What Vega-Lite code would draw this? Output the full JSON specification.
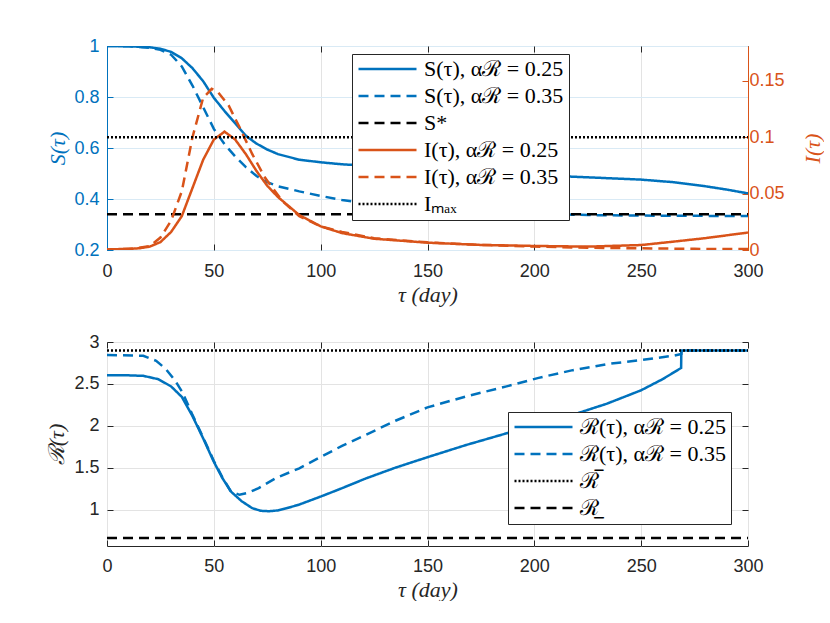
{
  "$schema": "https://vega.github.io/schema/vega-lite/v6.json",
  "background": "white",
  "padding": {"left": 45, "top": 36, "right": 0, "bottom": 0},
  "spacing": 26,
  "config": {
    "view": {"stroke": "#262626", "strokeWidth": 1},
    "axis": {
      "labelFont": "Liberation Sans",
      "labelFontSize": 18,
      "labelColor": "#262626",
      "labelFlush": false,
      "titleFont": "Liberation Serif",
      "titleFontSize": 22,
      "titleFontWeight": "normal",
      "titleFontStyle": "italic",
      "titleColor": "#262626",
      "gridColor": "#e3e3e3",
      "gridWidth": 1,
      "tickColor": "#262626",
      "tickSize": -6,
      "labelPadding": 14,
      "domainColor": "#262626"
    },
    "legend": {
      "orient": "none",
      "labelFont": "Liberation Serif",
      "labelFontSize": 22,
      "labelColor": "black",
      "fillColor": "white",
      "strokeColor": "#262626",
      "padding": 5,
      "rowPadding": 5,
      "symbolSize": 3364,
      "symbolStrokeWidth": 2.5,
      "clipHeight": 20,
      "labelOffset": 6,
      "labelLimit": 400,
      "title": null
    }
  },
  "datasets": {
    "S": [
      {"t": 0, "v": 1.0, "s": "S1"}, {"t": 10, "v": 0.999, "s": "S1"}, {"t": 20, "v": 0.995, "s": "S1"},
      {"t": 25, "v": 0.989, "s": "S1"}, {"t": 30, "v": 0.977, "s": "S1"}, {"t": 35, "v": 0.952, "s": "S1"},
      {"t": 40, "v": 0.913, "s": "S1"}, {"t": 45, "v": 0.862, "s": "S1"}, {"t": 50, "v": 0.797, "s": "S1"},
      {"t": 55, "v": 0.745, "s": "S1"}, {"t": 60, "v": 0.697, "s": "S1"}, {"t": 65, "v": 0.648, "s": "S1"},
      {"t": 70, "v": 0.617, "s": "S1"}, {"t": 75, "v": 0.594, "s": "S1"}, {"t": 80, "v": 0.576, "s": "S1"},
      {"t": 90, "v": 0.554, "s": "S1"}, {"t": 100, "v": 0.544, "s": "S1"}, {"t": 110, "v": 0.536, "s": "S1"},
      {"t": 125, "v": 0.529, "s": "S1"}, {"t": 150, "v": 0.52, "s": "S1"}, {"t": 175, "v": 0.506, "s": "S1"},
      {"t": 200, "v": 0.494, "s": "S1"}, {"t": 225, "v": 0.485, "s": "S1"}, {"t": 250, "v": 0.476, "s": "S1"},
      {"t": 265, "v": 0.466, "s": "S1"}, {"t": 280, "v": 0.45, "s": "S1"}, {"t": 290, "v": 0.437, "s": "S1"},
      {"t": 300, "v": 0.422, "s": "S1"},
      {"t": 0, "v": 1.0, "s": "S2"}, {"t": 10, "v": 0.999, "s": "S2"}, {"t": 20, "v": 0.993, "s": "S2"},
      {"t": 25, "v": 0.985, "s": "S2"}, {"t": 30, "v": 0.966, "s": "S2"}, {"t": 35, "v": 0.92, "s": "S2"},
      {"t": 40, "v": 0.845, "s": "S2"}, {"t": 45, "v": 0.76, "s": "S2"}, {"t": 50, "v": 0.675, "s": "S2"},
      {"t": 55, "v": 0.615, "s": "S2"}, {"t": 60, "v": 0.567, "s": "S2"}, {"t": 65, "v": 0.525, "s": "S2"},
      {"t": 70, "v": 0.49, "s": "S2"}, {"t": 75, "v": 0.466, "s": "S2"}, {"t": 80, "v": 0.45, "s": "S2"},
      {"t": 90, "v": 0.43, "s": "S2"}, {"t": 100, "v": 0.412, "s": "S2"}, {"t": 110, "v": 0.396, "s": "S2"},
      {"t": 125, "v": 0.38, "s": "S2"}, {"t": 150, "v": 0.365, "s": "S2"}, {"t": 175, "v": 0.352, "s": "S2"},
      {"t": 200, "v": 0.343, "s": "S2"}, {"t": 225, "v": 0.337, "s": "S2"}, {"t": 250, "v": 0.335, "s": "S2"},
      {"t": 275, "v": 0.334, "s": "S2"}, {"t": 300, "v": 0.333, "s": "S2"},
      {"t": 0, "v": 0.34, "s": "Ss"}, {"t": 300, "v": 0.34, "s": "Ss"}
    ],
    "I": [
      {"t": 0, "v": 0.0005, "s": "I1"}, {"t": 10, "v": 0.001, "s": "I1"}, {"t": 15, "v": 0.0015, "s": "I1"},
      {"t": 20, "v": 0.003, "s": "I1"}, {"t": 25, "v": 0.007, "s": "I1"}, {"t": 30, "v": 0.016, "s": "I1"},
      {"t": 35, "v": 0.03, "s": "I1"}, {"t": 40, "v": 0.055, "s": "I1"}, {"t": 45, "v": 0.08, "s": "I1"},
      {"t": 50, "v": 0.098, "s": "I1"}, {"t": 55, "v": 0.105, "s": "I1"}, {"t": 60, "v": 0.098, "s": "I1"},
      {"t": 65, "v": 0.085, "s": "I1"}, {"t": 70, "v": 0.07, "s": "I1"}, {"t": 75, "v": 0.057, "s": "I1"},
      {"t": 80, "v": 0.047, "s": "I1"}, {"t": 90, "v": 0.031, "s": "I1"}, {"t": 100, "v": 0.021, "s": "I1"},
      {"t": 110, "v": 0.015, "s": "I1"}, {"t": 125, "v": 0.01, "s": "I1"}, {"t": 150, "v": 0.0065, "s": "I1"},
      {"t": 175, "v": 0.0045, "s": "I1"}, {"t": 200, "v": 0.0036, "s": "I1"}, {"t": 225, "v": 0.003, "s": "I1"},
      {"t": 250, "v": 0.0044, "s": "I1"}, {"t": 265, "v": 0.0074, "s": "I1"}, {"t": 280, "v": 0.0105, "s": "I1"},
      {"t": 290, "v": 0.013, "s": "I1"}, {"t": 300, "v": 0.0155, "s": "I1"},
      {"t": 0, "v": 0.0005, "s": "I2"}, {"t": 10, "v": 0.001, "s": "I2"}, {"t": 15, "v": 0.002, "s": "I2"},
      {"t": 20, "v": 0.0035, "s": "I2"}, {"t": 25, "v": 0.011, "s": "I2"}, {"t": 30, "v": 0.026, "s": "I2"},
      {"t": 35, "v": 0.052, "s": "I2"}, {"t": 40, "v": 0.1, "s": "I2"}, {"t": 45, "v": 0.135, "s": "I2"},
      {"t": 49, "v": 0.143, "s": "I2"}, {"t": 52, "v": 0.14, "s": "I2"}, {"t": 57, "v": 0.128, "s": "I2"},
      {"t": 62, "v": 0.109, "s": "I2"}, {"t": 68, "v": 0.085, "s": "I2"}, {"t": 74, "v": 0.064, "s": "I2"},
      {"t": 82, "v": 0.0435, "s": "I2"}, {"t": 90, "v": 0.03, "s": "I2"}, {"t": 100, "v": 0.021, "s": "I2"},
      {"t": 110, "v": 0.016, "s": "I2"}, {"t": 125, "v": 0.0105, "s": "I2"}, {"t": 150, "v": 0.0068, "s": "I2"},
      {"t": 175, "v": 0.0045, "s": "I2"}, {"t": 200, "v": 0.003, "s": "I2"}, {"t": 225, "v": 0.002, "s": "I2"},
      {"t": 250, "v": 0.0015, "s": "I2"}, {"t": 275, "v": 0.001, "s": "I2"}, {"t": 300, "v": 0.0008, "s": "I2"},
      {"t": 0, "v": 0.1, "s": "Im"}, {"t": 300, "v": 0.1, "s": "Im"}
    ],
    "R": [
      {"t": 0, "v": 2.604, "s": "R1"}, {"t": 10, "v": 2.602, "s": "R1"}, {"t": 17, "v": 2.596, "s": "R1"},
      {"t": 24, "v": 2.556, "s": "R1"}, {"t": 30, "v": 2.47, "s": "R1"}, {"t": 35, "v": 2.345, "s": "R1"},
      {"t": 40, "v": 2.116, "s": "R1"}, {"t": 45, "v": 1.85, "s": "R1"}, {"t": 50, "v": 1.57, "s": "R1"},
      {"t": 54, "v": 1.376, "s": "R1"}, {"t": 58, "v": 1.215, "s": "R1"}, {"t": 63, "v": 1.1, "s": "R1"},
      {"t": 68, "v": 1.016, "s": "R1"}, {"t": 72, "v": 0.985, "s": "R1"}, {"t": 76, "v": 0.98, "s": "R1"},
      {"t": 80, "v": 0.99, "s": "R1"}, {"t": 84, "v": 1.015, "s": "R1"}, {"t": 90, "v": 1.06, "s": "R1"},
      {"t": 100, "v": 1.155, "s": "R1"}, {"t": 110, "v": 1.255, "s": "R1"}, {"t": 121, "v": 1.37, "s": "R1"},
      {"t": 135, "v": 1.5, "s": "R1"}, {"t": 150, "v": 1.625, "s": "R1"}, {"t": 168, "v": 1.77, "s": "R1"},
      {"t": 187, "v": 1.91, "s": "R1"}, {"t": 200, "v": 2.005, "s": "R1"}, {"t": 210, "v": 2.075, "s": "R1"},
      {"t": 221, "v": 2.156, "s": "R1"}, {"t": 234, "v": 2.264, "s": "R1"}, {"t": 250, "v": 2.424, "s": "R1"},
      {"t": 260, "v": 2.556, "s": "R1"}, {"t": 268.7, "v": 2.69, "s": "R1"}, {"t": 268.8, "v": 2.9, "s": "R1"},
      {"t": 300, "v": 2.9, "s": "R1"},
      {"t": 0, "v": 2.844, "s": "R2"}, {"t": 17, "v": 2.836, "s": "R2"}, {"t": 23, "v": 2.776, "s": "R2"},
      {"t": 27.6, "v": 2.676, "s": "R2"}, {"t": 32, "v": 2.536, "s": "R2"}, {"t": 35.4, "v": 2.396, "s": "R2"},
      {"t": 40, "v": 2.13, "s": "R2"}, {"t": 45, "v": 1.86, "s": "R2"}, {"t": 50, "v": 1.58, "s": "R2"},
      {"t": 54, "v": 1.385, "s": "R2"}, {"t": 58, "v": 1.215, "s": "R2"}, {"t": 62, "v": 1.176, "s": "R2"},
      {"t": 66, "v": 1.2, "s": "R2"}, {"t": 71, "v": 1.256, "s": "R2"}, {"t": 79, "v": 1.376, "s": "R2"},
      {"t": 90, "v": 1.492, "s": "R2"}, {"t": 100, "v": 1.628, "s": "R2"}, {"t": 110, "v": 1.76, "s": "R2"},
      {"t": 121, "v": 1.89, "s": "R2"}, {"t": 135, "v": 2.06, "s": "R2"}, {"t": 150, "v": 2.22, "s": "R2"},
      {"t": 168, "v": 2.35, "s": "R2"}, {"t": 187, "v": 2.47, "s": "R2"}, {"t": 202, "v": 2.572, "s": "R2"},
      {"t": 218, "v": 2.664, "s": "R2"}, {"t": 234, "v": 2.736, "s": "R2"}, {"t": 250, "v": 2.784, "s": "R2"},
      {"t": 265, "v": 2.836, "s": "R2"}, {"t": 268.8, "v": 2.856, "s": "R2"}, {"t": 268.9, "v": 2.9, "s": "R2"},
      {"t": 300, "v": 2.9, "s": "R2"},
      {"t": 0, "v": 2.9, "s": "Rb"}, {"t": 300, "v": 2.9, "s": "Rb"},
      {"t": 0, "v": 0.66, "s": "Ru"}, {"t": 300, "v": 0.66, "s": "Ru"}
    ]
  },
  "vconcat": [
    {
      "width": 641,
      "height": 204,
      "layer": [
        {
          "data": {"name": "S"},
          "mark": {"type": "line", "strokeWidth": 2.5, "clip": true},
          "encoding": {
            "x": {
              "field": "t", "type": "quantitative",
              "scale": {"domain": [0, 300], "nice": false},
              "axis": {"values": [0, 50, 100, 150, 200, 250, 300], "title": "τ (day)", "titlePadding": 4, "labelPadding": 18, "domain": false}
            },
            "y": {
              "field": "v", "type": "quantitative",
              "scale": {"domain": [0.2, 1], "nice": false, "zero": false},
              "axis": {
                "values": [0.2, 0.4, 0.6, 0.8, 1], "format": "~g", "title": "S(τ)",
                "titleColor": "#0072BD", "labelColor": "#0072BD", "domainColor": "#0072BD",
                "tickColor": "#0072BD", "gridColor": "#d9eaf5", "titlePadding": 4
              }
            },
            "color": {
              "field": "s", "type": "nominal",
              "scale": {"domain": ["S1", "S2", "Ss", "I1", "I2", "Im"], "range": ["#0072BD", "#0072BD", "#000000", "#D95319", "#D95319", "#000000"]},
              "legend": {
                "legendX": 245, "legendY": 8,
                "labelExpr": "datum.label == 'S1' ? 'S(τ), αℛ = 0.25' : datum.label == 'S2' ? 'S(τ), αℛ = 0.35' : datum.label == 'Ss' ? 'S*' : datum.label == 'I1' ? 'I(τ), αℛ = 0.25' : datum.label == 'I2' ? 'I(τ), αℛ = 0.35' : 'Iₘₐₓ'"
              }
            },
            "strokeDash": {
              "field": "s", "type": "nominal",
              "scale": {"domain": ["S1", "S2", "Ss", "I1", "I2", "Im"], "range": [[1, 0], [10, 6], [10, 6], [1, 0], [10, 6], [2, 2]]},
              "legend": {
                "legendX": 245, "legendY": 8,
                "labelExpr": "datum.label == 'S1' ? 'S(τ), αℛ = 0.25' : datum.label == 'S2' ? 'S(τ), αℛ = 0.35' : datum.label == 'Ss' ? 'S*' : datum.label == 'I1' ? 'I(τ), αℛ = 0.25' : datum.label == 'I2' ? 'I(τ), αℛ = 0.35' : 'Iₘₐₓ'"
              }
            }
          }
        },
        {
          "data": {"name": "I"},
          "mark": {"type": "line", "strokeWidth": 2.5, "clip": true},
          "encoding": {
            "x": {
              "field": "t", "type": "quantitative",
              "scale": {"domain": [0, 300], "nice": false},
              "axis": {"orient": "top", "values": [0, 50, 100, 150, 200, 250, 300], "labels": false, "title": null, "grid": false, "domain": false}
            },
            "y": {
              "field": "v", "type": "quantitative",
              "scale": {"domain": [0, 0.181], "nice": false, "zero": false},
              "axis": {
                "orient": "right", "values": [0, 0.05, 0.1, 0.15], "format": "~g", "title": "I(τ)",
                "titleAngle": 270, "titleColor": "#D95319", "labelColor": "#D95319", "domainColor": "#D95319",
                "tickColor": "#D95319", "grid": false, "labelPadding": 7, "titlePadding": 40
              }
            },
            "color": {
              "field": "s", "type": "nominal",
              "scale": {"domain": ["S1", "S2", "Ss", "I1", "I2", "Im"], "range": ["#0072BD", "#0072BD", "#000000", "#D95319", "#D95319", "#000000"]},
              "legend": {
                "legendX": 245, "legendY": 8,
                "labelExpr": "datum.label == 'S1' ? 'S(τ), αℛ = 0.25' : datum.label == 'S2' ? 'S(τ), αℛ = 0.35' : datum.label == 'Ss' ? 'S*' : datum.label == 'I1' ? 'I(τ), αℛ = 0.25' : datum.label == 'I2' ? 'I(τ), αℛ = 0.35' : 'Iₘₐₓ'"
              }
            },
            "strokeDash": {
              "field": "s", "type": "nominal",
              "scale": {"domain": ["S1", "S2", "Ss", "I1", "I2", "Im"], "range": [[1, 0], [10, 6], [10, 6], [1, 0], [10, 6], [2, 2]]},
              "legend": {
                "legendX": 245, "legendY": 8,
                "labelExpr": "datum.label == 'S1' ? 'S(τ), αℛ = 0.25' : datum.label == 'S2' ? 'S(τ), αℛ = 0.35' : datum.label == 'Ss' ? 'S*' : datum.label == 'I1' ? 'I(τ), αℛ = 0.25' : datum.label == 'I2' ? 'I(τ), αℛ = 0.35' : 'Iₘₐₓ'"
              }
            }
          }
        }
      ],
      "resolve": {"scale": {"y": "independent"}, "axis": {"x": "independent"}}
    },
    {
      "width": 641,
      "height": 204,
      "layer": [
        {
          "data": {"name": "R"},
          "mark": {"type": "line", "strokeWidth": 2.5, "clip": true},
          "encoding": {
            "x": {
              "field": "t", "type": "quantitative",
              "scale": {"domain": [0, 300], "nice": false},
              "axis": {"values": [0, 50, 100, 150, 200, 250, 300], "title": "τ (day)", "titlePadding": 4, "labelPadding": 17, "domain": false}
            },
            "y": {
              "field": "v", "type": "quantitative",
              "scale": {"domain": [0.565, 3], "nice": false, "zero": false},
              "axis": {"values": [1, 1.5, 2, 2.5, 3], "format": "~g", "title": "ℛ(τ)", "titlePadding": 5, "domain": false}
            },
            "color": {
              "field": "s", "type": "nominal",
              "scale": {"domain": ["R1", "R2", "Rb", "Ru"], "range": ["#0072BD", "#0072BD", "#000000", "#000000"]},
              "legend": {
                "legendX": 401, "legendY": 70,
                "labelExpr": "datum.label == 'R1' ? 'ℛ(τ), αℛ = 0.25' : datum.label == 'R2' ? 'ℛ(τ), αℛ = 0.35' : datum.label == 'Rb' ? 'ℛ̅' : 'ℛ̲'"
              }
            },
            "strokeDash": {
              "field": "s", "type": "nominal",
              "scale": {"domain": ["R1", "R2", "Rb", "Ru"], "range": [[1, 0], [10, 6], [2, 2], [10, 6]]},
              "legend": {
                "legendX": 401, "legendY": 70,
                "labelExpr": "datum.label == 'R1' ? 'ℛ(τ), αℛ = 0.25' : datum.label == 'R2' ? 'ℛ(τ), αℛ = 0.35' : datum.label == 'Rb' ? 'ℛ̅' : 'ℛ̲'"
              }
            }
          }
        },
        {
          "data": {"name": "R"},
          "transform": [{"filter": "datum.s == 'Rb'"}],
          "mark": {"type": "line", "opacity": 0},
          "encoding": {
            "x": {
              "field": "t", "type": "quantitative",
              "axis": {"orient": "top", "values": [0, 50, 100, 150, 200, 250, 300], "labels": false, "title": null, "grid": false, "domain": false}
            },
            "y": {
              "field": "v", "type": "quantitative",
              "axis": {"orient": "right", "values": [1, 1.5, 2, 2.5, 3], "labels": false, "title": null, "grid": false, "domain": false}
            }
          }
        }
      ],
      "resolve": {"axis": {"x": "independent", "y": "independent"}}
    }
  ],
  "resolve": {
    "scale": {"color": "independent", "strokeDash": "independent"},
    "legend": {"color": "independent", "strokeDash": "independent"}
  }
}
